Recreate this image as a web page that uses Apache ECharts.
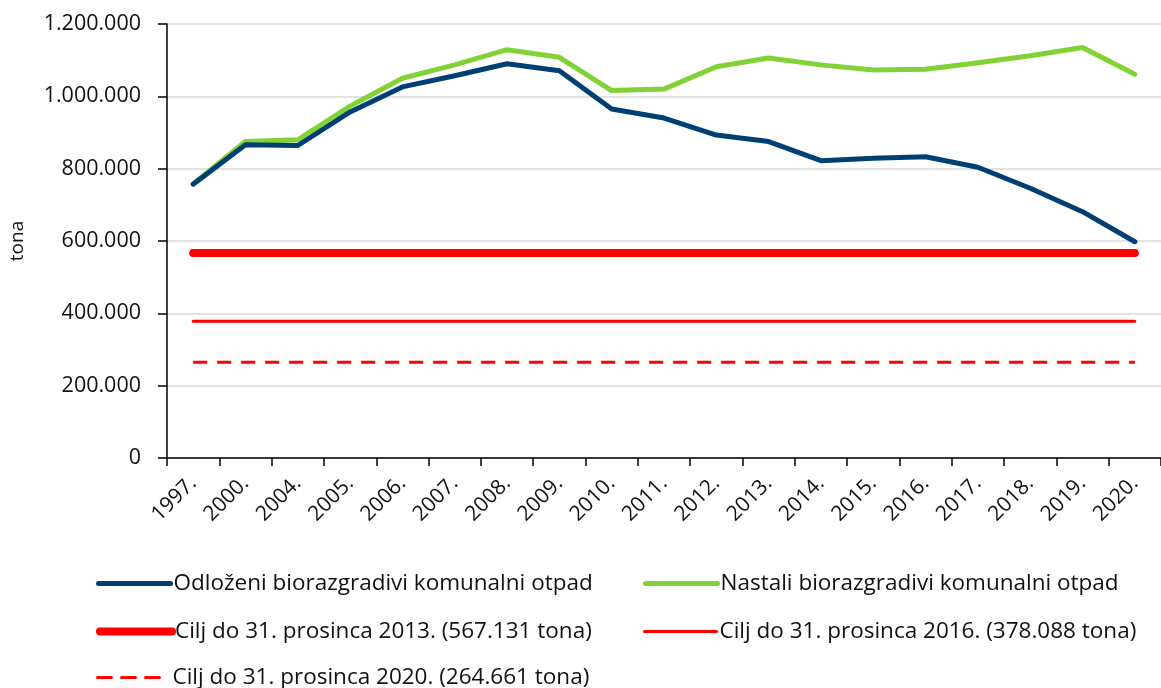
<!DOCTYPE html>
<html>
<head>
<meta charset="utf-8">
<script src="https://cdn.jsdelivr.net/npm/echarts@6/dist/echarts.min.js"></script>
<style>
  html, body { margin: 0; padding: 0; background: #fff; }
  #chart { width: 1161px; height: 688px; }
</style>
</head>
<body>
<div id="chart"></div>
<script>
  // godine
  const years = ['1997.', '2000.', '2004.', '2005.', '2006.', '2007.', '2008.', '2009.', '2010.',
    '2011.', '2012.', '2013.', '2014.', '2015.', '2016.', '2017.', '2018.', '2019.', '2020.'];
  // odlozeni biorazgradivi komunalni otpad (tona)
  const odlozeni = [757000, 866000, 864000, 957000, 1026000, 1057000, 1090000, 1071000, 965000,
    940000, 893000, 875000, 822000, 829000, 833000, 804000, 746000, 681000, 598000];
  // nastali biorazgradivi komunalni otpad (tona)
  const nastali = [758000, 875000, 880000, 973000, 1050000, 1087000, 1129000, 1108000, 1016000,
    1020000, 1082000, 1106000, 1087000, 1073000, 1075000, 1093000, 1112000, 1135000, 1061000];
  // ciljevi
  const cilj2013 = 567131;
  const cilj2016 = 378088;
  const cilj2020 = 264661;

  const names = [
    'Odloženi biorazgradivi komunalni otpad',
    'Nastali biorazgradivi komunalni otpad',
    'Cilj do 31. prosinca 2013. (567.131 tona)',
    'Cilj do 31. prosinca 2016. (378.088 tona)',
    'Cilj do 31. prosinca 2020. (264.661 tona)'
  ];

  const font = '"Open Sans", "Noto Sans", sans-serif';
  const fmt = v => String(v).replace(/\B(?=(\d{3})+(?!\d))/g, '.');

  function legendAt(name, left, top, width, type) {
    return {
      data: [name],
      left: left,
      top: top,
      itemWidth: 72,
      itemHeight: 14,
      itemGap: 0,
      padding: 0,
      itemStyle: { opacity: 0 },
      lineStyle: { width: width, type: type || 'solid', cap: 'round' },
      textStyle: { fontFamily: font, fontSize: 22.5, color: '#111', padding: [0, 0, 0, -2] }
    };
  }

  let chart = echarts.init(document.getElementById('chart'));
  chart.setOption({
    backgroundColor: '#fff',
    animation: false,
    grid: { left: 167, top: 24, right: -9, bottom: 230 },
    legend: [
      legendAt(names[0], 96, 572, 5),
      legendAt(names[1], 643, 572, 5),
      legendAt(names[2], 96, 620, 8),
      legendAt(names[3], 643, 620, 3),
      legendAt(names[4], 96, 666, 3, [14, 10])
    ],
    xAxis: {
      type: 'category',
      data: years,
      boundaryGap: true,
      axisLine: { lineStyle: { color: '#000', width: 1.5 } },
      axisTick: { show: true, length: 8, lineStyle: { color: '#000', width: 1.5 } },
      axisLabel: { rotate: 45, fontFamily: font, fontSize: 21, color: '#111', margin: 22, interval: 0 }
    },
    yAxis: {
      type: 'value',
      min: 0,
      max: 1200000,
      interval: 200000,
      name: 'tona',
      nameLocation: 'middle',
      nameGap: 140,
      nameTextStyle: { fontFamily: font, fontSize: 19, color: '#111' },
      axisLine: { show: true, lineStyle: { color: '#000', width: 1.5 } },
      axisTick: { show: true, length: 9, lineStyle: { color: '#000', width: 1.5 } },
      axisLabel: { fontFamily: font, fontSize: 21.5, color: '#111', margin: 26, formatter: fmt },
      splitLine: { lineStyle: { color: '#d9d9d9', width: 1.5 } }
    },
    series: [
      {
        name: names[3], type: 'line', symbol: 'none', z: 2,
        lineStyle: { color: '#ff0000', width: 3, cap: 'round' },
        itemStyle: { color: '#ff0000' },
        data: years.map(() => cilj2016)
      },
      {
        name: names[4], type: 'line', symbol: 'none', z: 2,
        lineStyle: { color: '#ff0000', width: 3, type: [14, 10] },
        itemStyle: { color: '#ff0000' },
        data: years.map(() => cilj2020)
      },
      {
        name: names[2], type: 'line', symbol: 'none', z: 3,
        lineStyle: { color: '#ff0000', width: 8, cap: 'round' },
        itemStyle: { color: '#ff0000' },
        data: years.map(() => cilj2013)
      },
      {
        name: names[1], type: 'line', symbol: 'none', z: 4,
        lineStyle: { color: '#80d235', width: 5, cap: 'round', join: 'round' },
        itemStyle: { color: '#80d235' },
        data: nastali
      },
      {
        name: names[0], type: 'line', symbol: 'none', z: 5,
        lineStyle: { color: '#003f72', width: 5, cap: 'round', join: 'round' },
        itemStyle: { color: '#003f72' },
        data: odlozeni
      }
    ]
  });
</script>
</body>
</html>
